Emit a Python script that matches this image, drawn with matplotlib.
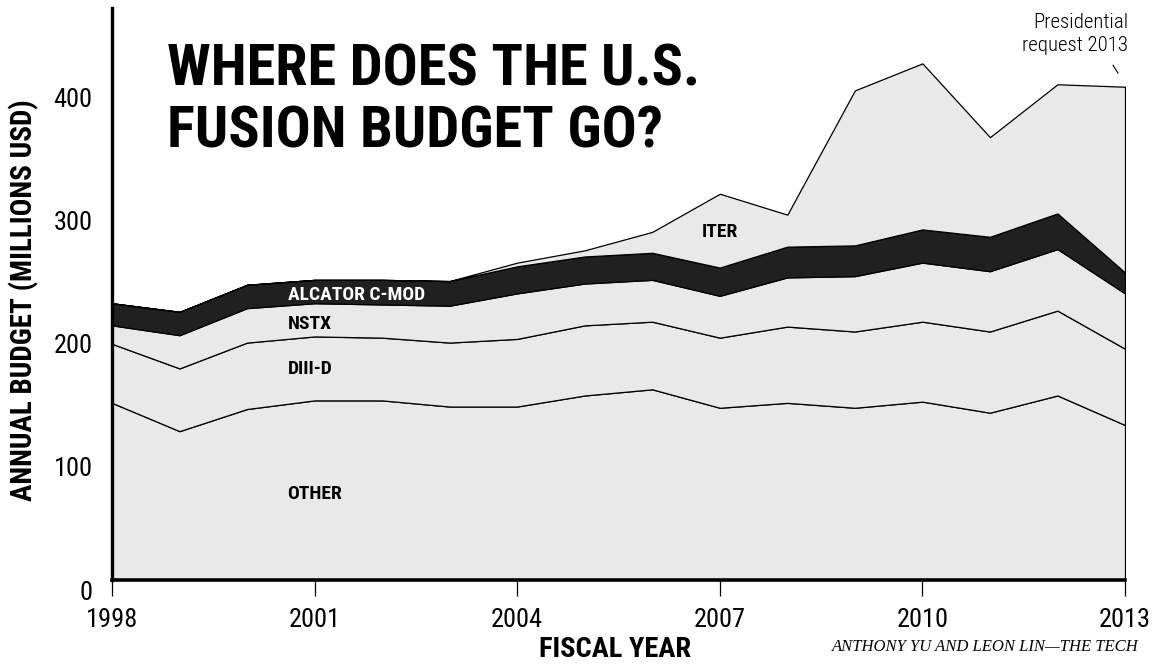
import matplotlib
matplotlib.use('Agg')
import matplotlib.pyplot as plt
from matplotlib.transforms import ScaledTranslation

years = list(range(1998, 2014))
other = [144, 121, 139, 146, 146, 141, 141, 150, 155, 140, 144, 140, 145, 136, 150, 126]
diii_d = [48, 51, 54, 52, 51, 52, 55, 57, 55, 57, 62, 62, 65, 66, 69, 62]
nstx = [15, 27, 28, 27, 27, 30, 37, 34, 34, 34, 40, 45, 48, 49, 50, 45]
alcator = [18, 19, 19, 19, 20, 20, 22, 22, 22, 23, 25, 25, 27, 28, 29, 17]
iter_ = [0, 0, 0, 0, 0, 0, 3, 5, 17, 60, 26, 126, 135, 81, 105, 151]

x_ticks = [1998, 2001, 2004, 2007, 2010, 2013]
y_ticks = [0, 100, 200, 300, 400]

NARROW = ['Roboto Condensed', 'Archivo Narrow', 'DejaVu Sans']
LIGHT = '#e9e9e9'
DARK = '#202020'

fig = plt.figure(figsize=(11.52, 6.64), dpi=100)
ax = fig.add_axes([112 / 1152, 84 / 664, (1125 - 112) / 1152, (580 - 8) / 664])

ax.stackplot(years, other, diii_d, nstx, alcator, iter_,
             colors=[LIGHT, LIGHT, LIGHT, DARK, LIGHT],
             edgecolor='black', linewidth=0.9)

ax.set_xlim(1998, 2013)
ax.set_ylim(0, 465)

for side in ['top', 'right']:
    ax.spines[side].set_visible(False)
ax.spines['left'].set_linewidth(2.4)
ax.spines['bottom'].set_linewidth(2.6)
ax.spines['left'].set_zorder(5)
ax.spines['bottom'].set_zorder(5)

ax.set_xticks(x_ticks)
ax.set_xticklabels([str(y) for y in x_ticks], family=NARROW, fontsize=19)
ax.tick_params(axis='x', direction='out', length=11.5, width=0.9, pad=9)
ax.set_yticks(y_ticks)
ax.set_yticklabels([str(v) for v in y_ticks], family=NARROW, fontsize=19)
ax.tick_params(axis='y', length=0, pad=14)
for lbl in ax.get_yticklabels():
    lbl.set_transform(lbl.get_transform() + ScaledTranslation(0, -0.10, fig.dpi_scale_trans))

fig.text(24 / 1152, 1 - 300 / 664, 'ANNUAL BUDGET (MILLIONS USD)', family=NARROW,
         fontsize=21, fontweight='bold', rotation=90, ha='center', va='center')
fig.text(615 / 1152, 1 - 657 / 664, 'FISCAL YEAR', family=NARROW, fontsize=20.5,
         fontweight='bold', ha='center', va='baseline')
fig.text(1139 / 1152, 1 - 651 / 664, 'ANTHONY YU AND LEON LIN\u2014THE TECH',
         family=['Liberation Serif', 'DejaVu Serif'], style='italic', fontsize=12,
         ha='right', va='baseline')

# title
fig.text(167 / 1152, 1 - 85 / 664, 'WHERE DOES THE U.S.', family=NARROW,
         fontsize=42, fontweight='black', ha='left', va='baseline')
fig.text(167 / 1152, 1 - 148 / 664, 'FUSION BUDGET GO?', family=NARROW,
         fontsize=42, fontweight='black', ha='left', va='baseline')

# layer labels
lab = dict(family=NARROW, fontsize=14, fontweight='bold', va='center')
ax.text(2000.6, 232, 'ALCATOR C-MOD', color='white', ha='left', **lab)
ax.text(2000.6, 208.5, 'NSTX', ha='left', **lab)
ax.text(2000.6, 171.5, 'DIII-D', ha='left', **lab)
ax.text(2000.6, 70, 'OTHER', ha='left', **lab)
ax.text(2007, 283, 'ITER', ha='center', **lab)

# presidential request note
fig.text(1128 / 1152, 1 - 28 / 664, 'Presidential', family=NARROW,
         fontsize=15, fontweight='light', ha='right', va='baseline')
fig.text(1128 / 1152, 1 - 51 / 664, 'request 2013', family=NARROW,
         fontsize=15, fontweight='light', ha='right', va='baseline')
ax.annotate('', xy=(2012.92, 410), xytext=(2012.8, 420.5),
            arrowprops=dict(arrowstyle='-', color='black', lw=0.8),
            annotation_clip=False)

fig.savefig('out.png', dpi=100)
